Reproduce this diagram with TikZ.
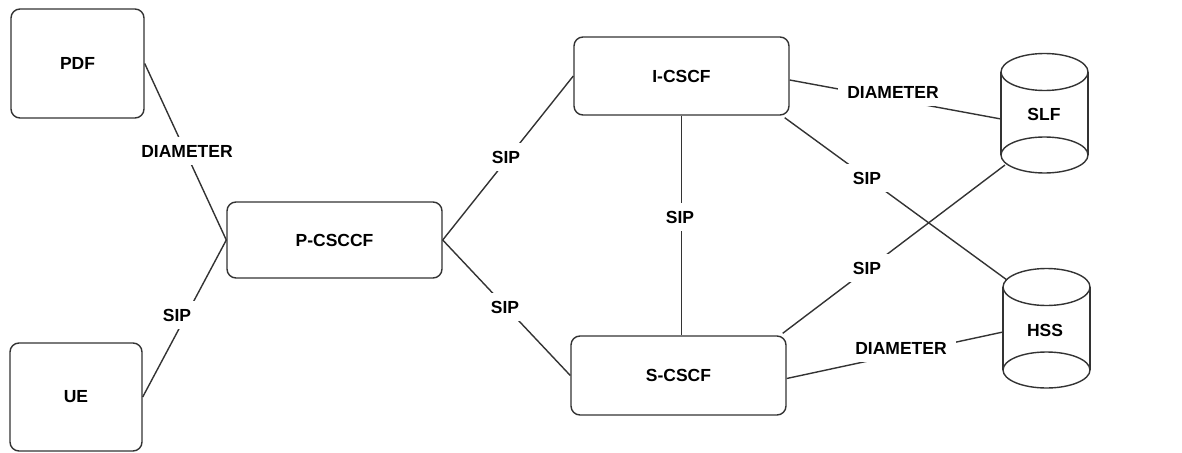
\documentclass[tikz,border=0pt]{standalone}
\usepackage{fontspec}
\setmainfont{Liberation Sans}
\begin{document}
\begin{tikzpicture}[x=1pt,y=-1pt,
  ln/.style={draw=black!80,line width=1.4pt},
  box/.style={ln,rounded corners=9pt,inner sep=0pt,font=\fontsize{17.5}{20}\selectfont\bfseries},
  lbl/.style={fill=white,inner xsep=9pt,inner ysep=8pt,font=\fontsize{17.5}{20}\selectfont\bfseries},
  txt/.style={inner sep=0pt,font=\fontsize{17.5}{20}\selectfont\bfseries}]
\useasboundingbox (0,0) rectangle (1182,452);
% boxes
\node[box,minimum width=133pt,minimum height=109pt] (pdf) at (77.5,63.5) {PDF};
\node[box,minimum width=132pt,minimum height=108pt] (ue) at (76,397) {UE};
\node[box,minimum width=215pt,minimum height=76pt] (pcscf) at (334.5,240) {P-CSCCF};
\node[box,minimum width=215pt,minimum height=78pt] (icscf) at (681.5,76) {I-CSCF};
\node[box,minimum width=215pt,minimum height=79pt] (scscf) at (678.5,375.5) {S-CSCF};
% cylinders
\draw[ln] (1001,72) -- (1001,155) (1088,72) -- (1088,155);
\draw[ln,fill=white] (1044.5,72) ellipse [x radius=43.5pt,y radius=18.5pt];
\draw[ln] (1044.5,155) ellipse [x radius=43.5pt,y radius=18pt];
\node[txt] (slf) at (1044,114) {SLF};
\draw[ln] (1003,287) -- (1003,370) (1090,287) -- (1090,370);
\draw[ln] (1046.5,287) ellipse [x radius=43.5pt,y radius=18.5pt];
\draw[ln] (1046.5,370) ellipse [x radius=43.5pt,y radius=18pt];
\node[txt] (hss) at (1045,330) {HSS};
\coordinate (slfw) at (1001,119);
\coordinate (slfb) at (1005,165);
\coordinate (hsst) at (1007,280);
\coordinate (hssw) at (1003,332);
% connectors
\draw[ln] (pdf.east) -- (pcscf.west);
\draw[ln] (ue.east) -- (pcscf.west);
\draw[ln] (pcscf.east) -- (icscf.west);
\draw[ln] (pcscf.east) -- (scscf.west);
\draw[ln] (icscf.south) -- (scscf.north -| icscf.south);
\draw[ln] ([yshift=-4pt]icscf.east) -- (slfw);
\draw[ln] ([xshift=-5pt,yshift=-2pt]icscf.south east) -- (hsst);
\draw[ln] ([xshift=-4pt,yshift=2pt]scscf.north east) -- (slfb);
\draw[ln] ([yshift=-3pt]scscf.east) -- (hssw);
% labels
\node[lbl] (l1) at (187,151) {DIAMETER};
\node[lbl] (l2) at (177,315) {SIP};
\node[lbl] (l3) at (506,157) {SIP};
\node[lbl] (l4) at (505,307) {SIP};
\node[lbl] (l5) at (680,217) {SIP};
\node[lbl] (l6) at (893,92) {DIAMETER};
\node[lbl] (l7) at (867,178) {SIP};
\node[lbl] (l8) at (867,268) {SIP};
\node[lbl] (l9) at (901,348) {DIAMETER};
\end{tikzpicture}
\end{document}
